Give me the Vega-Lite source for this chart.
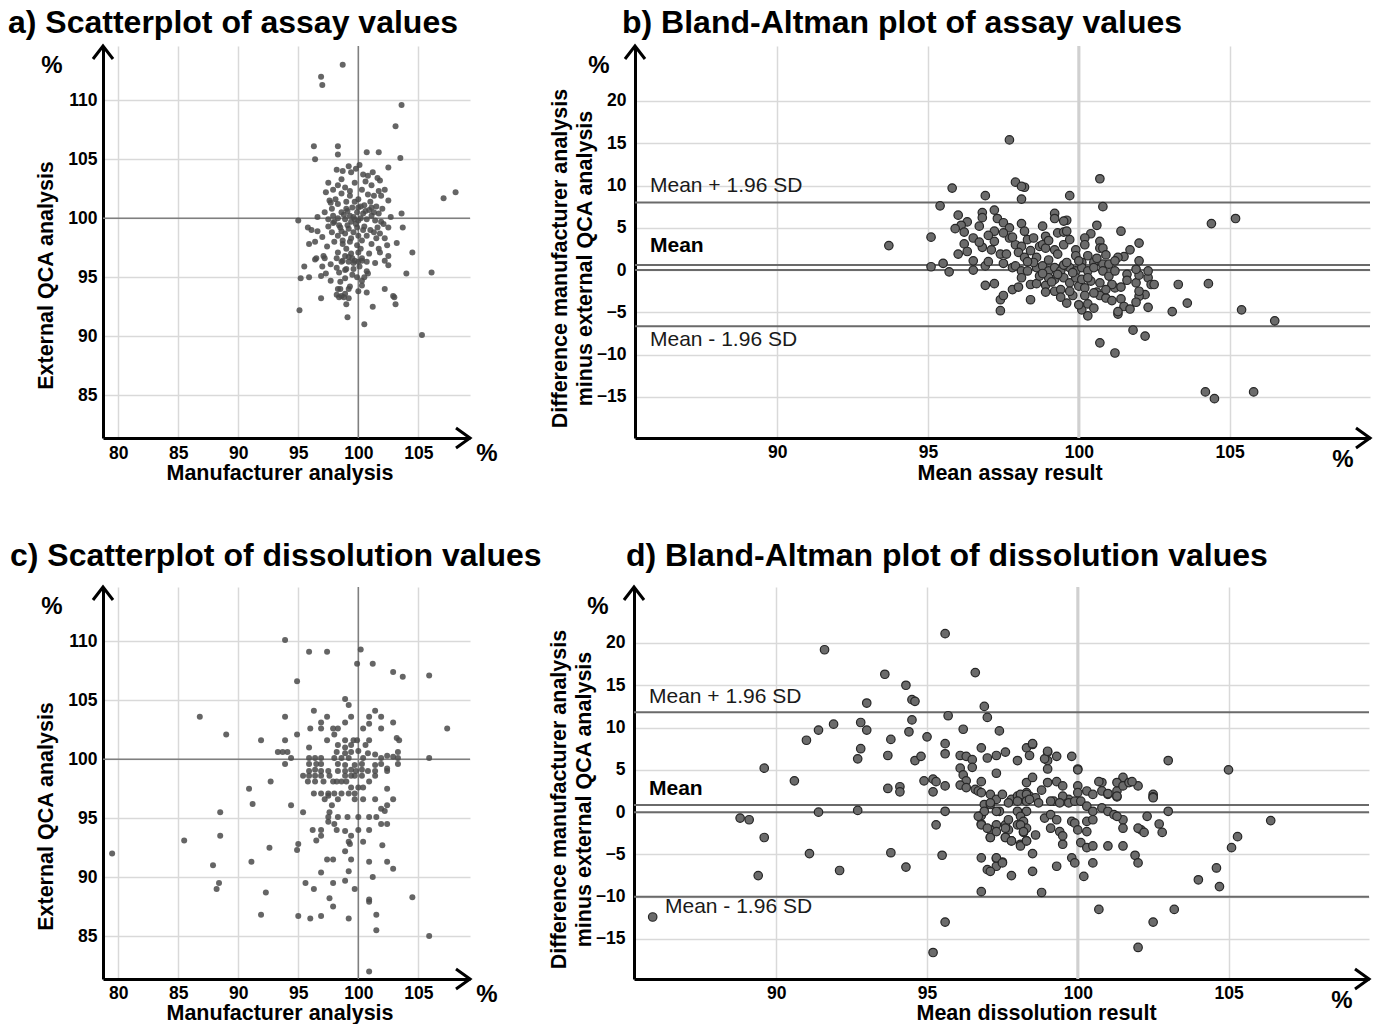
{
  "$schema": "https://vega.github.io/schema/vega-lite/v6.json",
  "padding": {"left": 8, "top": 7, "right": 0, "bottom": 0},
  "config": {
    "view": {"stroke": null},
    "font": "Liberation Sans",
    "axis": {"grid": true, "gridColor": "#d9d9d9", "gridWidth": 1.5, "domainColor": "#000000", "domainWidth": 3, "ticks": false, "tickSize": 0, "labelFont": "Liberation Sans", "labelFontSize": 17.5, "labelFontWeight": "bold", "labelColor": "#000000", "titleFont": "Liberation Sans", "titleFontSize": 21.5, "titleFontWeight": "bold", "titleColor": "#000000"},
    "title": {"font": "Liberation Sans", "fontSize": 32, "fontWeight": "bold", "color": "#000000", "anchor": "start", "frame": "group"}
  },
  "datasets": {
    "a": [
      {"x":98.7,"y":113.0},{"x":96.9,"y":112.0},{"x":97.0,"y":111.3},{"x":103.6,"y":109.6},{"x":103.1,"y":107.8},{"x":96.3,"y":106.1},{"x":98.3,"y":106.1},{"x":96.4,"y":105.0},{"x":98.3,"y":105.4},{"x":100.7,"y":105.6},{"x":101.7,"y":105.6},{"x":103.5,"y":105.1},{"x":102.5,"y":104.3},{"x":107.1,"y":101.7},{"x":108.1,"y":102.2},{"x":95.0,"y":99.8},{"x":103.6,"y":100.4},{"x":103.7,"y":99.2},{"x":103.2,"y":97.9},{"x":104.5,"y":97.1},{"x":104.0,"y":95.3},{"x":106.1,"y":95.4},{"x":95.1,"y":92.2},{"x":105.3,"y":90.1},{"x":100.5,"y":91.0},{"x":99.1,"y":91.6},{"x":101.2,"y":92.5},{"x":103.1,"y":92.7},{"x":103.0,"y":93.3},{"x":102.2,"y":94.0},{"x":96.9,"y":93.2},{"x":99.0,"y":92.7},{"x":98.2,"y":93.5},{"x":98.6,"y":93.4},{"x":98.9,"y":93.6},{"x":100.0,"y":93.8},{"x":100.7,"y":93.7},{"x":95.5,"y":95.9},{"x":95.2,"y":94.9},{"x":95.9,"y":95.0},{"x":96.9,"y":95.1},{"x":96.4,"y":96.5},{"x":97.1,"y":96.8},{"x":97.0,"y":95.9},{"x":97.3,"y":95.3},{"x":97.7,"y":94.7},{"x":98.5,"y":94.6},{"x":98.3,"y":94.0},{"x":99.3,"y":94.2},{"x":99.2,"y":93.2},{"x":100.3,"y":94.3},{"x":100.8,"y":95.3},{"x":100.3,"y":94.7},{"x":99.5,"y":95.2},{"x":98.9,"y":95.6},{"x":98.2,"y":95.8},{"x":98.2,"y":96.6},{"x":98.7,"y":96.4},{"x":99.2,"y":96.3},{"x":99.6,"y":96.2},{"x":100.0,"y":96.3},{"x":100.3,"y":96.4},{"x":101.4,"y":96.2},{"x":101.7,"y":97.4},{"x":102.2,"y":96.4},{"x":102.5,"y":96.0},{"x":102.5,"y":96.8},{"x":95.9,"y":97.8},{"x":96.4,"y":98.0},{"x":95.8,"y":99.2},{"x":96.1,"y":99.0},{"x":96.6,"y":98.9},{"x":96.6,"y":100.1},{"x":97.7,"y":101.3},
      {"x":98.7,"y":104.0},{"x":99.4,"y":103.9},{"x":100.1,"y":104.5},{"x":100.4,"y":103.7},{"x":100.8,"y":103.6},{"x":101.6,"y":103.4},{"x":101.8,"y":103.2},{"x":97.5,"y":103.0},{"x":99.7,"y":103.0},{"x":101.1,"y":102.8},{"x":98.3,"y":102.8},{"x":97.9,"y":102.4},{"x":98.6,"y":102.1},{"x":99.3,"y":102.3},{"x":100.3,"y":102.4},{"x":101.7,"y":102.3},{"x":102.2,"y":102.4},{"x":101.3,"y":101.9},{"x":101.9,"y":101.9},{"x":102.5,"y":101.5},{"x":97.6,"y":101.5},{"x":98.3,"y":101.2},{"x":99.0,"y":101.4},{"x":99.7,"y":101.4},{"x":100.0,"y":101.6},{"x":100.5,"y":101.1},{"x":101.1,"y":100.9},{"x":101.5,"y":101.0},{"x":97.8,"y":100.8},
      {"x":97.2,"y":100.5},{"x":97.5,"y":99.9},{"x":97.9,"y":100.2},{"x":98.0,"y":99.7},{"x":98.6,"y":100.5},{"x":98.9,"y":99.9},{"x":99.3,"y":100.2},{"x":99.4,"y":99.7},{"x":99.9,"y":100.5},{"x":100.0,"y":99.8},{"x":100.4,"y":100.4},{"x":100.7,"y":99.9},{"x":101.1,"y":100.2},{"x":101.4,"y":99.8},{"x":101.7,"y":100.4},{"x":101.9,"y":99.7},{"x":98.3,"y":100.0},{"x":98.8,"y":100.3},{"x":99.1,"y":100.6},{"x":99.6,"y":100.1},{"x":99.8,"y":99.5},{"x":100.2,"y":100.0},{"x":100.6,"y":100.6},{"x":101.3,"y":100.5},{"x":102.1,"y":99.5},{"x":102.5,"y":99.2},
      {"x":97.8,"y":98.8},{"x":98.3,"y":98.5},{"x":98.9,"y":98.7},{"x":99.6,"y":98.8},{"x":100.0,"y":98.5},{"x":100.7,"y":98.5},{"x":101.3,"y":98.8},{"x":101.8,"y":98.7},{"x":102.2,"y":98.3},{"x":98.5,"y":99.2},{"x":99.2,"y":99.1},{"x":99.9,"y":99.2},{"x":100.5,"y":99.3},{"x":101.0,"y":99.0},{"x":97.5,"y":99.3},
      {"x":98.0,"y":98.0},{"x":98.7,"y":97.8},{"x":99.3,"y":98.0},{"x":99.9,"y":97.7},{"x":100.3,"y":98.1},{"x":101.1,"y":97.8},{"x":102.4,"y":97.7},
      {"x":98.3,"y":97.1},{"x":98.9,"y":96.8},{"x":99.4,"y":97.0},{"x":100.0,"y":97.1},{"x":100.3,"y":96.6},{"x":99.7,"y":96.4},{"x":99.2,"y":96.7},{"x":98.6,"y":96.3},{"x":100.7,"y":96.3},{"x":101.8,"y":97.1},{"x":96.5,"y":96.6},{"x":97.2,"y":96.6},
      {"x":99.0,"y":95.7},{"x":99.6,"y":95.7},{"x":100.1,"y":95.9},{"x":100.7,"y":95.5},{"x":98.5,"y":94.0},{"x":98.4,"y":93.3},{"x":98.8,"y":93.3},{"x":99.2,"y":94.0},{"x":102.9,"y":93.4},
      {"x":99.0,"y":100.8},{"x":99.5,"y":100.9},{"x":100.2,"y":101.0},{"x":98.4,"y":99.4},{"x":99.7,"y":99.9},{"x":100.9,"y":100.7},{"x":98.1,"y":101.6},{"x":99.3,"y":101.9},{"x":100.8,"y":102.0},{"x":98.9,"y":102.6},{"x":100.6,"y":103.1},{"x":99.8,"y":104.2},{"x":98.6,"y":103.3},{"x":97.3,"y":102.2},{"x":101.0,"y":101.4},{"x":99.4,"y":98.3},{"x":98.7,"y":98.1},{"x":100.2,"y":97.4},{"x":99.0,"y":97.4},{"x":100.9,"y":97.0},{"x":99.5,"y":96.6},{"x":98.4,"y":95.4},{"x":99.9,"y":95.0},{"x":100.5,"y":95.0},{"x":98.9,"y":94.9},{"x":97.7,"y":96.1},{"x":97.4,"y":97.6},{"x":97.0,"y":98.4},{"x":101.5,"y":98.3},{"x":102.0,"y":100.8},{"x":102.7,"y":100.1},{"x":101.2,"y":103.9},{"x":99.2,"y":104.4},{"x":98.2,"y":104.1},{"x":100.4,"y":99.0},{"x":99.1,"y":99.4},{"x":98.6,"y":98.9},{"x":100.0,"y":100.9},{"x":101.6,"y":99.2},{"x":97.9,"y":99.6}
    ],
    "b": [
      {"x":97.7,"y":15.4},{"x":95.8,"y":9.7},{"x":97.9,"y":10.4},{"x":98.2,"y":9.8},{"x":98.1,"y":9.9},{"x":98.1,"y":8.4},{"x":96.9,"y":8.8},{"x":99.7,"y":8.8},{"x":100.7,"y":10.8},{"x":100.8,"y":7.5},{"x":95.4,"y":7.6},{"x":96.0,"y":6.5},{"x":95.1,"y":3.9},{"x":93.7,"y":2.9},{"x":95.1,"y":0.4},{"x":95.5,"y":0.8},{"x":95.7,"y":-0.2},{"x":104.4,"y":5.5},{"x":105.2,"y":6.1},{"x":103.3,"y":-1.7},{"x":104.3,"y":-1.6},{"x":103.6,"y":-3.9},{"x":103.1,"y":-4.9},{"x":105.4,"y":-4.7},{"x":106.5,"y":-6.0},{"x":101.8,"y":-7.1},{"x":102.2,"y":-7.8},{"x":100.7,"y":-8.6},{"x":101.2,"y":-9.8},{"x":104.2,"y":-14.4},{"x":104.5,"y":-15.2},{"x":105.8,"y":-14.4},{"x":96.9,"y":-1.8},{"x":97.2,"y":-1.6},{"x":97.4,"y":-4.8},{"x":97.4,"y":-3.5},{"x":97.5,"y":-3.0},{"x":97.8,"y":-2.3},{"x":98.4,"y":-3.5},{"x":99.6,"y":-3.9},{"x":99.8,"y":-3.0},{"x":100.1,"y":-4.7},{"x":100.0,"y":-4.1},{"x":100.3,"y":-5.4},{"x":100.3,"y":-4.0},{"x":100.5,"y":-4.5},{"x":100.6,"y":-2.6},{"x":100.7,"y":-3.0},{"x":100.9,"y":-3.3},{"x":101.1,"y":-3.6},{"x":101.2,"y":-2.1},{"x":101.4,"y":-2.0},{"x":101.4,"y":-3.4},{"x":101.5,"y":-4.3},{"x":101.7,"y":-4.6},{"x":101.3,"y":-5.2},{"x":101.3,"y":-4.9},{"x":102.3,"y":-4.4},{"x":102.2,"y":-2.9},{"x":102.0,"y":-3.1},{"x":101.9,"y":-3.8},{"x":102.0,"y":-2.5},{"x":101.9,"y":-1.5},{"x":102.0,"y":-0.6},{"x":101.9,"y":0.1},{"x":102.3,"y":-0.9},{"x":102.4,"y":-1.7},{"x":102.5,"y":-1.7},{"x":102.3,"y":-0.1},{"x":102.0,"y":1.1},{"x":102.0,"y":3.2},{"x":101.4,"y":4.6},{"x":101.5,"y":1.6},{"x":101.3,"y":1.5},{"x":100.6,"y":5.3},{"x":100.4,"y":4.3},{"x":100.2,"y":3.8},{"x":100.2,"y":3.0},{"x":100.7,"y":3.4},{"x":100.7,"y":2.6},{"x":100.8,"y":2.6},{"x":99.6,"y":5.9},{"x":99.5,"y":5.8},{"x":99.2,"y":6.7},{"x":99.2,"y":6.1},{"x":99.3,"y":4.4},{"x":99.5,"y":4.5},{"x":98.8,"y":5.2},{"x":98.1,"y":5.5},
      {"x":97.2,"y":7.1},{"x":97.3,"y":6.1},{"x":96.8,"y":6.8},{"x":96.8,"y":6.2},{"x":96.3,"y":5.7},{"x":96.7,"y":5.2},{"x":96.1,"y":5.3},{"x":95.9,"y":4.9},{"x":96.2,"y":4.5},{"x":96.5,"y":3.8},{"x":96.2,"y":3.1},{"x":96.0,"y":1.9},{"x":96.3,"y":2.2},{"x":96.5,"y":1.1},{"x":96.5,"y":0.0},{"x":96.8,"y":2.7},{"x":96.9,"y":0.5},{"x":97.1,"y":2.4},{"x":97.2,"y":3.4},{"x":97.2,"y":4.6},{"x":97.5,"y":5.6},{"x":97.7,"y":5.0},{"x":97.7,"y":3.8},{"x":97.5,"y":4.4},{"x":97.4,"y":1.9},{"x":97.6,"y":1.9},{"x":97.9,"y":3.0},{"x":97.8,"y":3.9},{"x":98.2,"y":4.6},{"x":98.3,"y":3.6},{"x":98.5,"y":3.8},{"x":98.1,"y":2.8},{"x":98.0,"y":2.1},{"x":98.2,"y":1.5},{"x":98.4,"y":2.3},{"x":98.7,"y":2.8},{"x":98.8,"y":3.0},{"x":98.9,"y":2.6},{"x":98.6,"y":1.5},{"x":99.2,"y":2.4},{"x":99.3,"y":1.9},{"x":99.5,"y":3.0},{"x":99.6,"y":4.6},{"x":99.7,"y":3.6},{"x":99.9,"y":2.4},{"x":99.9,"y":1.7},{"x":100.3,"y":1.7},{"x":100.1,"y":0.9},{"x":100.5,"y":0.9},{"x":100.8,"y":0.7},{"x":101.0,"y":0.7},{"x":101.2,"y":1.1},
      {"x":97.8,"y":0.3},{"x":97.9,"y":0.5},{"x":98.1,"y":-0.1},{"x":98.1,"y":-0.9},{"x":98.3,"y":-0.1},{"x":98.6,"y":0.3},{"x":98.8,"y":0.5},{"x":99.0,"y":-0.1},{"x":99.2,"y":0.3},{"x":99.4,"y":-0.1},{"x":99.7,"y":0.3},{"x":99.9,"y":-0.1},{"x":100.1,"y":0.3},{"x":100.3,"y":-0.1},{"x":100.5,"y":0.3},{"x":100.8,"y":-0.1},{"x":98.4,"y":-1.7},{"x":98.6,"y":-1.6},{"x":98.9,"y":-1.8},{"x":98.9,"y":-2.6},{"x":99.2,"y":-2.5},{"x":99.4,"y":-2.3},{"x":99.2,"y":-1.1},{"x":99.5,"y":-0.9},{"x":99.7,"y":-1.5},{"x":100.0,"y":-1.9},{"x":100.2,"y":-2.1},{"x":100.4,"y":-1.3},{"x":100.5,"y":-2.7},{"x":100.7,"y":-1.5},{"x":101.0,"y":-0.7},{"x":99.0,"y":-0.9},{"x":98.7,"y":-0.7},{"x":99.7,"y":-2.5},{"x":99.9,"y":-0.9},{"x":100.1,"y":-1.1},{"x":100.3,"y":-0.9},{"x":101.2,"y":-0.1},{"x":101.6,"y":-0.5},{"x":101.1,"y":-1.7},
      {"x":98.5,"y":0.9},{"x":99.0,"y":1.2},{"x":99.5,"y":0.6},{"x":100.0,"y":1.1},{"x":98.8,"y":-0.4},{"x":99.3,"y":-0.5},{"x":99.6,"y":0.9},{"x":100.6,"y":1.4},{"x":98.3,"y":1.0},{"x":97.5,"y":0.8},{"x":99.1,"y":-1.4},{"x":99.8,"y":-0.3},{"x":100.9,"y":-2.3},{"x":101.6,"y":-1.2},{"x":98.0,"y":-2.0},{"x":99.4,"y":-3.2},{"x":100.2,"y":-3.0},{"x":97.0,"y":1.0},{"x":96.7,"y":3.3},{"x":97.0,"y":4.1},{"x":98.9,"y":4.0},{"x":99.0,"y":3.5},{"x":100.9,"y":1.8},{"x":101.7,"y":2.4}
    ],
    "c": [
      {"x":93.9,"y":110.1},{"x":95.9,"y":109.1},{"x":97.4,"y":109.1},{"x":100.2,"y":109.3},{"x":99.9,"y":108.1},{"x":101.2,"y":108.1},{"x":102.9,"y":107.4},{"x":103.7,"y":107.0},{"x":105.9,"y":107.1},{"x":94.9,"y":106.6},{"x":98.9,"y":105.1},{"x":99.2,"y":104.6},{"x":96.3,"y":104.1},{"x":97.4,"y":103.6},{"x":99.4,"y":103.6},{"x":101.4,"y":104.1},{"x":101.9,"y":103.6},{"x":100.9,"y":103.6},{"x":98.9,"y":103.1},{"x":96.9,"y":103.1},{"x":96.0,"y":102.6},{"x":96.9,"y":102.6},{"x":97.9,"y":102.6},{"x":98.3,"y":102.6},{"x":100.4,"y":102.6},{"x":100.9,"y":103.0},{"x":101.9,"y":102.6},{"x":102.9,"y":103.1},{"x":86.8,"y":103.6},{"x":89.0,"y":102.1},{"x":93.9,"y":103.6},{"x":94.9,"y":102.1},{"x":91.9,"y":101.6},{"x":93.9,"y":101.6},{"x":95.9,"y":101.0},{"x":97.4,"y":101.6},{"x":98.0,"y":102.1},{"x":98.9,"y":101.6},{"x":99.6,"y":101.6},{"x":99.9,"y":101.6},{"x":100.6,"y":101.2},{"x":100.9,"y":101.6},{"x":98.3,"y":101.2},{"x":98.9,"y":101.0},{"x":99.4,"y":101.2},{"x":103.2,"y":101.8},{"x":103.4,"y":101.6},{"x":93.3,"y":100.6},{"x":93.7,"y":100.6},{"x":94.1,"y":100.6},{"x":94.4,"y":100.1},{"x":93.9,"y":99.6},
      {"x":95.9,"y":100.1},{"x":96.4,"y":100.1},{"x":96.9,"y":100.1},{"x":98.0,"y":100.1},{"x":98.6,"y":100.1},{"x":99.2,"y":100.1},{"x":100.4,"y":100.1},{"x":100.8,"y":100.5},{"x":101.4,"y":100.4},{"x":101.9,"y":100.1},{"x":102.4,"y":100.3},{"x":102.9,"y":100.2},{"x":103.3,"y":100.1},{"x":103.3,"y":100.6},{"x":105.9,"y":100.1},{"x":98.2,"y":100.6},{"x":98.9,"y":100.5},{"x":99.4,"y":100.6},{"x":100.0,"y":100.7},
      {"x":95.9,"y":99.6},{"x":96.5,"y":99.6},{"x":96.9,"y":99.6},{"x":98.3,"y":99.6},{"x":98.9,"y":99.5},{"x":99.7,"y":99.5},{"x":100.3,"y":99.6},{"x":101.4,"y":99.5},{"x":101.9,"y":99.6},{"x":102.4,"y":99.2},{"x":103.3,"y":99.6},
      {"x":95.9,"y":99.0},{"x":96.4,"y":99.1},{"x":96.9,"y":99.0},{"x":97.5,"y":99.0},{"x":98.3,"y":99.0},{"x":98.9,"y":99.0},{"x":99.4,"y":99.1},{"x":99.8,"y":99.0},{"x":100.3,"y":99.1},{"x":100.8,"y":99.0},{"x":101.4,"y":99.0},{"x":102.4,"y":99.0},
      {"x":95.4,"y":98.6},{"x":95.9,"y":98.6},{"x":96.4,"y":98.6},{"x":96.9,"y":98.6},{"x":97.6,"y":98.6},{"x":98.9,"y":98.6},{"x":99.4,"y":98.6},{"x":99.7,"y":98.6},{"x":100.3,"y":98.6},{"x":101.4,"y":98.6},{"x":98.2,"y":98.1},
      {"x":95.8,"y":98.1},{"x":96.4,"y":98.1},{"x":97.1,"y":98.1},{"x":97.9,"y":98.1},{"x":98.6,"y":98.1},{"x":99.0,"y":98.1},{"x":99.4,"y":97.6},{"x":100.0,"y":97.6},{"x":100.4,"y":97.6},{"x":100.9,"y":98.1},
      {"x":96.3,"y":97.1},{"x":96.9,"y":97.1},{"x":97.5,"y":97.1},{"x":98.0,"y":97.1},{"x":98.6,"y":97.1},{"x":99.2,"y":97.1},{"x":99.7,"y":97.1},
      {"x":97.2,"y":96.6},{"x":97.5,"y":96.9},{"x":98.3,"y":96.6},{"x":99.7,"y":96.6},{"x":100.4,"y":96.6},{"x":101.4,"y":96.6},{"x":102.4,"y":97.5},{"x":102.9,"y":96.6},
      {"x":90.9,"y":97.5},{"x":92.7,"y":98.1},{"x":91.2,"y":96.2},{"x":94.4,"y":96.1},{"x":95.4,"y":95.5},{"x":97.8,"y":96.1},{"x":97.6,"y":95.5},{"x":97.5,"y":95.1},{"x":97.5,"y":94.7},
      {"x":98.0,"y":94.5},{"x":98.3,"y":95.1},{"x":99.1,"y":95.1},{"x":100.0,"y":95.1},{"x":100.9,"y":95.1},{"x":101.5,"y":95.1},{"x":101.9,"y":94.5},{"x":102.4,"y":94.5},{"x":101.9,"y":95.8},{"x":102.4,"y":96.1},{"x":102.2,"y":95.6},
      {"x":88.5,"y":95.5},{"x":88.5,"y":93.5},{"x":85.5,"y":93.1},{"x":87.9,"y":91.0},{"x":88.4,"y":89.5},{"x":88.2,"y":89.0},{"x":91.1,"y":91.3},{"x":92.6,"y":92.5},{"x":92.3,"y":88.7},{"x":91.9,"y":86.8},{"x":95.0,"y":92.8},{"x":94.9,"y":92.3},
      {"x":96.2,"y":94.0},{"x":96.9,"y":94.0},{"x":96.9,"y":93.5},{"x":96.5,"y":93.1},
      {"x":98.2,"y":94.0},{"x":98.9,"y":93.9},{"x":99.4,"y":93.5},{"x":99.3,"y":92.8},{"x":99.2,"y":93.0},{"x":98.9,"y":92.2},{"x":100.0,"y":94.0},{"x":100.4,"y":93.0},{"x":100.9,"y":94.0},{"x":102.0,"y":92.7},{"x":102.4,"y":91.3},{"x":102.9,"y":90.7},
      {"x":97.4,"y":91.5},{"x":97.9,"y":91.5},{"x":99.4,"y":91.5},{"x":100.9,"y":91.3},{"x":96.9,"y":90.4},{"x":99.2,"y":90.5},{"x":101.2,"y":90.0},{"x":95.6,"y":89.5},{"x":96.3,"y":89.0},{"x":97.9,"y":89.5},{"x":98.9,"y":89.7},{"x":99.7,"y":89.0},{"x":97.6,"y":88.2},{"x":97.9,"y":87.5},{"x":100.9,"y":87.9},{"x":100.9,"y":88.1},{"x":104.5,"y":88.3},{"x":95.0,"y":86.7},{"x":96.0,"y":86.5},{"x":96.9,"y":86.7},{"x":99.2,"y":86.5},{"x":101.5,"y":86.8},{"x":101.5,"y":85.5},{"x":105.9,"y":85.0},{"x":100.9,"y":82.0},{"x":107.4,"y":102.6},{"x":79.5,"y":92.0}
    ],
    "d": [
      {"x":95.6,"y":21.1},{"x":91.6,"y":19.2},{"x":93.6,"y":16.3},{"x":96.6,"y":16.5},{"x":94.3,"y":15.0},{"x":94.5,"y":13.3},{"x":94.6,"y":13.1},{"x":93.0,"y":12.9},{"x":95.7,"y":11.4},{"x":94.5,"y":10.9},{"x":92.8,"y":10.6},{"x":93.0,"y":9.7},{"x":91.9,"y":10.4},{"x":91.4,"y":9.7},{"x":91.0,"y":8.5},{"x":93.8,"y":8.6},{"x":94.4,"y":9.5},{"x":95.0,"y":8.9},{"x":96.2,"y":9.8},{"x":96.9,"y":12.5},{"x":97.0,"y":11.2},{"x":97.4,"y":9.6},{"x":92.8,"y":7.5},{"x":92.7,"y":6.3},{"x":93.7,"y":6.7},{"x":94.6,"y":6.1},{"x":94.8,"y":6.6},{"x":95.6,"y":8.1},{"x":95.6,"y":6.9},{"x":96.1,"y":6.7},{"x":96.3,"y":6.6},{"x":96.5,"y":6.2},{"x":96.5,"y":5.3},{"x":96.8,"y":7.6},{"x":97.0,"y":6.4},{"x":97.3,"y":6.7},{"x":97.6,"y":7.1},{"x":98.0,"y":6.1},{"x":96.1,"y":5.2},{"x":96.2,"y":4.4},{"x":96.3,"y":3.7},{"x":96.1,"y":3.2},{"x":96.3,"y":2.9},{"x":96.6,"y":2.7},{"x":96.8,"y":3.6},{"x":96.7,"y":2.5},{"x":97.3,"y":4.6},{"x":89.6,"y":5.2},{"x":90.6,"y":3.7},{"x":93.7,"y":2.8},{"x":94.1,"y":3.0},{"x":94.1,"y":2.4},{"x":94.9,"y":3.7},{"x":95.2,"y":3.9},{"x":95.3,"y":3.6},{"x":95.2,"y":2.4},{"x":95.6,"y":3.1},
      {"x":96.8,"y":2.3},{"x":97.1,"y":2.1},{"x":97.3,"y":1.5},{"x":97.5,"y":2.1},{"x":97.8,"y":1.5},{"x":98.0,"y":1.9},{"x":98.3,"y":2.3},{"x":98.2,"y":1.5},{"x":98.4,"y":1.9},{"x":96.9,"y":0.9},{"x":97.1,"y":0.9},{"x":97.4,"y":0.1},{"x":98.0,"y":0.1},{"x":98.3,"y":0.1},
      {"x":96.8,"y":-0.4},{"x":96.9,"y":0.1},{"x":96.8,"y":-1.4},{"x":97.3,"y":-1.5},{"x":97.1,"y":-2.1},{"x":97.6,"y":-1.5},{"x":97.7,"y":-2.1},{"x":98.0,"y":-1.5},{"x":98.1,"y":-0.5},{"x":98.2,"y":-1.1},{"x":98.3,"y":-1.9},{"x":98.2,"y":-2.4},{"x":97.8,"y":-3.4},{"x":98.1,"y":-3.8},{"x":98.3,"y":-3.4},{"x":97.6,"y":-3.0},{"x":97.1,"y":-3.0},
      {"x":91.4,"y":0.0},{"x":92.7,"y":0.2},{"x":95.6,"y":0.1},{"x":95.3,"y":-1.5},{"x":88.8,"y":-0.7},{"x":89.1,"y":-0.9},{"x":89.6,"y":-3.0},{"x":91.1,"y":-4.9},{"x":93.8,"y":-4.8},{"x":95.5,"y":-5.1},{"x":92.1,"y":-6.9},{"x":94.3,"y":-6.5},{"x":89.4,"y":-7.5},
      {"x":96.8,"y":-5.4},{"x":97.0,"y":-6.8},{"x":97.3,"y":-5.5},{"x":97.3,"y":-6.4},{"x":97.5,"y":-5.9},{"x":97.8,"y":-7.5},{"x":96.8,"y":-9.4},{"x":85.9,"y":-12.4},{"x":95.6,"y":-13.0},{"x":95.2,"y":-16.6},
      {"x":98.3,"y":7.6},{"x":98.5,"y":8.0},{"x":98.4,"y":6.7},{"x":99.0,"y":7.1},{"x":99.3,"y":6.6},{"x":99.0,"y":6.1},{"x":98.9,"y":6.3},{"x":99.0,"y":5.1},{"x":99.8,"y":6.6},{"x":100.0,"y":5.1},{"x":103.0,"y":6.1},
      {"x":98.1,"y":2.1},{"x":98.3,"y":2.1},{"x":98.6,"y":1.7},{"x":98.3,"y":3.5},{"x":98.5,"y":4.1},{"x":98.8,"y":2.6},{"x":99.0,"y":3.5},{"x":99.3,"y":3.6},{"x":99.5,"y":3.1},{"x":100.0,"y":3.1},{"x":100.3,"y":2.5},{"x":100.5,"y":2.1},{"x":100.8,"y":3.5},{"x":100.8,"y":2.5},{"x":101.0,"y":2.1},{"x":101.3,"y":2.5},{"x":101.3,"y":1.8},{"x":101.5,"y":4.1},{"x":101.3,"y":3.5},{"x":101.5,"y":3.1},{"x":101.7,"y":3.5},{"x":102.0,"y":3.1},{"x":102.5,"y":2.1},{"x":102.5,"y":1.8},{"x":100.0,"y":2.3},{"x":99.7,"y":1.5},{"x":99.5,"y":1.9},{"x":99.2,"y":1.3},
      {"x":97.1,"y":1.1},{"x":97.3,"y":0.1},{"x":97.7,"y":1.1},{"x":98.0,"y":1.3},{"x":98.3,"y":1.3},{"x":98.4,"y":1.5},{"x":98.7,"y":1.1},{"x":99.1,"y":1.3},{"x":99.4,"y":1.1},{"x":99.7,"y":1.1},{"x":99.9,"y":1.3},{"x":100.1,"y":1.3},{"x":100.3,"y":0.7},{"x":100.5,"y":0.1},{"x":100.8,"y":0.5},{"x":101.0,"y":0.1},{"x":101.2,"y":-0.3},{"x":101.5,"y":-0.9},{"x":102.3,"y":-0.5},{"x":103.0,"y":0.1},{"x":102.7,"y":-1.4},{"x":102.8,"y":-2.4},{"x":102.1,"y":-2.1},{"x":102.0,"y":-1.9},{"x":101.5,"y":-1.9},
      {"x":96.7,"y":-0.5},{"x":96.8,"y":-1.5},{"x":97.0,"y":-1.9},{"x":97.1,"y":-3.0},{"x":97.3,"y":-2.3},{"x":97.6,"y":-1.9},{"x":97.6,"y":-3.0},{"x":97.7,"y":-0.9},{"x":97.8,"y":-3.4},{"x":98.1,"y":-4.0},{"x":98.1,"y":-1.5},{"x":98.2,"y":-2.3},{"x":98.3,"y":-3.4},{"x":98.6,"y":-2.7},{"x":98.9,"y":-0.7},{"x":99.1,"y":-0.3},{"x":99.1,"y":-1.9},{"x":99.3,"y":-0.9},{"x":99.4,"y":-2.3},{"x":99.5,"y":-3.8},{"x":99.8,"y":-1.1},{"x":99.9,"y":-1.3},{"x":100.0,"y":-2.1},{"x":100.3,"y":-2.3},{"x":100.3,"y":-1.1},{"x":100.5,"y":-0.9},{"x":100.1,"y":-3.6},{"x":100.3,"y":-4.2},{"x":100.5,"y":-4.0},{"x":101.0,"y":-4.0},{"x":101.5,"y":-4.0},{"x":99.5,"y":-2.8},{"x":99.8,"y":-5.4},{"x":99.9,"y":-6.0},{"x":100.5,"y":-6.0},{"x":98.5,"y":-4.9},{"x":98.5,"y":-7.0},{"x":99.3,"y":-6.4},{"x":100.2,"y":-7.6},{"x":97.3,"y":-5.4},{"x":97.5,"y":-6.0},{"x":97.1,"y":-7.0},{"x":101.9,"y":-5.1},{"x":102.0,"y":-6.0},
      {"x":105.0,"y":5.0},{"x":102.5,"y":1.7},{"x":102.2,"y":-2.4},{"x":100.7,"y":-11.5},{"x":102.5,"y":-13.0},{"x":103.2,"y":-11.5},{"x":102.0,"y":-16.0},{"x":104.0,"y":-8.0},{"x":104.6,"y":-6.6},{"x":104.7,"y":-8.8},{"x":105.1,"y":-4.2},{"x":105.3,"y":-2.9},{"x":106.4,"y":-1.0},{"x":98.8,"y":-9.5},{"x":101.3,"y":-0.5},{"x":100.7,"y":3.6},{"x":101.3,"y":1.9},{"x":101.8,"y":3.6},{"x":101.0,"y":2.2},{"x":100.0,"y":5.0},{"x":99.0,"y":7.2},{"x":98.5,"y":8.1}
    ],
    "refb": [{"v":8.0},{"v":0.6},{"v":-6.65},{"v":0}],
    "refd": [{"v":11.8},{"v":0.85},{"v":-10.0},{"v":0}]
  },
  "spacing": 56,
  "vconcat": [
    {
      "spacing": 50,
      "hconcat": [
        {
          "width": 367, "height": 392,
          "title": {"text": "a) Scatterplot of assay values", "dx": -95, "offset": 0},
          "layer": [
            {"data": {"values": [{}]}, "mark": {"type": "rule", "color": "#7f7f7f", "strokeWidth": 1.5}, "encoding": {"y": {"datum": 100, "scale": {"domain": [81.36, 114.6], "nice": false, "zero": false}}}},
            {"data": {"values": [{}]}, "mark": {"type": "rule", "color": "#7f7f7f", "strokeWidth": 1.5}, "encoding": {"x": {"datum": 100, "scale": {"domain": [78.74, 109.3], "nice": false, "zero": false}}}},
            {"data": {"name": "a"}, "mark": {"type": "circle", "size": 36, "color": "#4a4a4a", "opacity": 0.85},
             "encoding": {
               "x": {"field": "x", "type": "quantitative", "scale": {"domain": [78.74, 109.3], "nice": false, "zero": false}, "axis": {"values": [80, 85, 90, 95, 100, 105], "title": "Manufacturer analysis", "titleAlign": "left", "titleX": 63, "titleY": 35, "titleBaseline": "middle", "labelPadding": 6}},
               "y": {"field": "y", "type": "quantitative", "scale": {"domain": [81.36, 114.6], "nice": false, "zero": false}, "axis": {"values": [85, 90, 95, 100, 105, 110], "title": "External QCA analysis", "titleAlign": "center", "titleAngle": 270, "titleX": -57, "titleY": 229, "titleBaseline": "middle", "labelPadding": 6}}
             }},
            {"data": {"values": [{}]}, "mark": {"type": "point", "shape": "M-1,1.3L0,0L1,1.3", "size": 400, "filled": false, "color": "#000000", "strokeWidth": 3, "opacity": 1}, "encoding": {"x": {"datum": 78.74}, "y": {"datum": 114.6}}},
            {"data": {"values": [{}]}, "mark": {"type": "point", "shape": "M-1.4,-1L0,0L-1.4,1", "size": 400, "filled": false, "color": "#000000", "strokeWidth": 3, "opacity": 1}, "encoding": {"x": {"datum": 109.3}, "y": {"datum": 81.36}}},
            {"data": {"values": [{}]}, "mark": {"type": "text", "text": "%", "fontSize": 24, "fontWeight": "bold", "color": "#000000", "align": "center", "baseline": "middle", "dx": -51, "dy": 20}, "encoding": {"x": {"datum": 78.74}, "y": {"datum": 114.6}}},
            {"data": {"values": [{}]}, "mark": {"type": "text", "text": "%", "fontSize": 24, "fontWeight": "bold", "color": "#000000", "align": "center", "baseline": "middle", "dx": 17, "dy": 16}, "encoding": {"x": {"datum": 109.3}, "y": {"datum": 81.36}}}
          ]
        },
        {
          "width": 735, "height": 392,
          "title": {"text": "b) Bland-Altman plot of assay values", "dx": -13, "offset": 0},
          "layer": [
            {"data": {"values": [{}]}, "mark": {"type": "rule", "color": "#d0d0d0", "strokeWidth": 3}, "encoding": {"x": {"datum": 100, "scale": {"domain": [85.28, 109.66], "nice": false, "zero": false}}}},
            {"data": {"name": "refb"}, "mark": {"type": "rule", "color": "#6a6a6a", "strokeWidth": 2}, "encoding": {"y": {"field": "v", "type": "quantitative", "scale": {"domain": [-19.85, 26.5], "nice": false, "zero": false}}}},
            {"data": {"name": "b"}, "mark": {"type": "circle", "size": 72, "color": "#6b6b6b", "stroke": "#262626", "strokeWidth": 1.2, "opacity": 1},
             "encoding": {
               "x": {"field": "x", "type": "quantitative", "scale": {"domain": [85.28, 109.66], "nice": false, "zero": false}, "axis": {"values": [90, 95, 100, 105], "title": "Mean assay result", "titleAlign": "left", "titleX": 282, "titleY": 35, "titleBaseline": "middle", "labelPadding": 5}},
               "y": {"field": "y", "type": "quantitative", "scale": {"domain": [-19.85, 26.5], "nice": false, "zero": false}, "axis": {"values": [-15, -10, -5, 0, 5, 10, 15, 20], "title": ["Difference manufacturer analysis", "minus external QCA analysis"], "titleAlign": "center", "titleAngle": 270, "titleX": -75, "titleY": 212, "titleBaseline": "middle", "titleLineHeight": 25, "labelPadding": 9}}
             }},
            {"data": {"values": [{}]}, "mark": {"type": "text", "text": "Mean + 1.96 SD", "fontSize": 21, "color": "#1a1a1a", "align": "left", "baseline": "middle", "dx": 15}, "encoding": {"x": {"datum": 85.28}, "y": {"datum": 9.93}}},
            {"data": {"values": [{}]}, "mark": {"type": "text", "text": "Mean", "fontSize": 21, "fontWeight": "bold", "color": "#000000", "align": "left", "baseline": "middle", "dx": 15}, "encoding": {"x": {"datum": 85.28}, "y": {"datum": 2.84}}},
            {"data": {"values": [{}]}, "mark": {"type": "text", "text": "Mean - 1.96 SD", "fontSize": 21, "color": "#1a1a1a", "align": "left", "baseline": "middle", "dx": 15}, "encoding": {"x": {"datum": 85.28}, "y": {"datum": -8.27}}},
            {"data": {"values": [{}]}, "mark": {"type": "point", "shape": "M-1,1.3L0,0L1,1.3", "size": 400, "filled": false, "color": "#000000", "strokeWidth": 3, "opacity": 1}, "encoding": {"x": {"datum": 85.28}, "y": {"datum": 26.5}}},
            {"data": {"values": [{}]}, "mark": {"type": "point", "shape": "M-1.4,-1L0,0L-1.4,1", "size": 400, "filled": false, "color": "#000000", "strokeWidth": 3, "opacity": 1}, "encoding": {"x": {"datum": 109.66}, "y": {"datum": -19.85}}},
            {"data": {"values": [{}]}, "mark": {"type": "text", "text": "%", "fontSize": 24, "fontWeight": "bold", "color": "#000000", "align": "center", "baseline": "middle", "dx": -36, "dy": 20}, "encoding": {"x": {"datum": 85.28}, "y": {"datum": 26.5}}},
            {"data": {"values": [{}]}, "mark": {"type": "text", "text": "%", "fontSize": 24, "fontWeight": "bold", "color": "#000000", "align": "center", "baseline": "middle", "dx": -27, "dy": 22}, "encoding": {"x": {"datum": 109.66}, "y": {"datum": -19.85}}}
          ]
        }
      ]
    },
    {
      "spacing": 5,
      "hconcat": [
        {
          "width": 367, "height": 392,
          "title": {"text": "c) Scatterplot of dissolution values", "dx": -93, "offset": 8},
          "layer": [
            {"data": {"values": [{}]}, "mark": {"type": "rule", "color": "#7f7f7f", "strokeWidth": 1.5}, "encoding": {"y": {"datum": 100, "scale": {"domain": [81.36, 114.6], "nice": false, "zero": false}}}},
            {"data": {"values": [{}]}, "mark": {"type": "rule", "color": "#7f7f7f", "strokeWidth": 1.5}, "encoding": {"x": {"datum": 100, "scale": {"domain": [78.74, 109.3], "nice": false, "zero": false}}}},
            {"data": {"name": "c"}, "mark": {"type": "circle", "size": 36, "color": "#4a4a4a", "opacity": 0.85},
             "encoding": {
               "x": {"field": "x", "type": "quantitative", "scale": {"domain": [78.74, 109.3], "nice": false, "zero": false}, "axis": {"values": [80, 85, 90, 95, 100, 105], "title": "Manufacturer analysis", "titleAlign": "left", "titleX": 63, "titleY": 34, "titleBaseline": "middle", "labelPadding": 5}},
               "y": {"field": "y", "type": "quantitative", "scale": {"domain": [81.36, 114.6], "nice": false, "zero": false}, "axis": {"values": [85, 90, 95, 100, 105, 110], "title": "External QCA analysis", "titleAlign": "center", "titleAngle": 270, "titleX": -57, "titleY": 229, "titleBaseline": "middle", "labelPadding": 6}}
             }},
            {"data": {"values": [{}]}, "mark": {"type": "point", "shape": "M-1,1.3L0,0L1,1.3", "size": 400, "filled": false, "color": "#000000", "strokeWidth": 3, "opacity": 1}, "encoding": {"x": {"datum": 78.74}, "y": {"datum": 114.6}}},
            {"data": {"values": [{}]}, "mark": {"type": "point", "shape": "M-1.4,-1L0,0L-1.4,1", "size": 400, "filled": false, "color": "#000000", "strokeWidth": 3, "opacity": 1}, "encoding": {"x": {"datum": 109.3}, "y": {"datum": 81.36}}},
            {"data": {"values": [{}]}, "mark": {"type": "text", "text": "%", "fontSize": 24, "fontWeight": "bold", "color": "#000000", "align": "center", "baseline": "middle", "dx": -51, "dy": 20}, "encoding": {"x": {"datum": 78.74}, "y": {"datum": 114.6}}},
            {"data": {"values": [{}]}, "mark": {"type": "text", "text": "%", "fontSize": 24, "fontWeight": "bold", "color": "#000000", "align": "center", "baseline": "middle", "dx": 17, "dy": 16}, "encoding": {"x": {"datum": 109.3}, "y": {"datum": 81.36}}}
          ]
        },
        {
          "width": 735, "height": 392,
          "title": {"text": "d) Bland-Altman plot of dissolution values", "dx": -8, "offset": 8},
          "layer": [
            {"data": {"values": [{}]}, "mark": {"type": "rule", "color": "#d0d0d0", "strokeWidth": 3}, "encoding": {"x": {"datum": 100, "scale": {"domain": [85.28, 109.66], "nice": false, "zero": false}}}},
            {"data": {"name": "refd"}, "mark": {"type": "rule", "color": "#6a6a6a", "strokeWidth": 2}, "encoding": {"y": {"field": "v", "type": "quantitative", "scale": {"domain": [-19.73, 26.62], "nice": false, "zero": false}}}},
            {"data": {"name": "d"}, "mark": {"type": "circle", "size": 72, "color": "#6b6b6b", "stroke": "#262626", "strokeWidth": 1.2, "opacity": 1},
             "encoding": {
               "x": {"field": "x", "type": "quantitative", "scale": {"domain": [85.28, 109.66], "nice": false, "zero": false}, "axis": {"values": [90, 95, 100, 105], "title": "Mean dissolution result", "titleAlign": "left", "titleX": 282, "titleY": 34, "titleBaseline": "middle", "labelPadding": 5}},
               "y": {"field": "y", "type": "quantitative", "scale": {"domain": [-19.73, 26.62], "nice": false, "zero": false}, "axis": {"values": [-15, -10, -5, 0, 5, 10, 15, 20], "title": ["Difference manufacturer analysis", "minus external QCA analysis"], "titleAlign": "center", "titleAngle": 270, "titleX": -75, "titleY": 212, "titleBaseline": "middle", "titleLineHeight": 25, "labelPadding": 9}}
             }},
            {"data": {"values": [{}]}, "mark": {"type": "text", "text": "Mean + 1.96 SD", "fontSize": 21, "color": "#1a1a1a", "align": "left", "baseline": "middle", "dx": 15}, "encoding": {"x": {"datum": 85.28}, "y": {"datum": 13.6}}},
            {"data": {"values": [{}]}, "mark": {"type": "text", "text": "Mean", "fontSize": 21, "fontWeight": "bold", "color": "#000000", "align": "left", "baseline": "middle", "dx": 15}, "encoding": {"x": {"datum": 85.28}, "y": {"datum": 2.72}}},
            {"data": {"values": [{}]}, "mark": {"type": "text", "text": "Mean - 1.96 SD", "fontSize": 21, "color": "#1a1a1a", "align": "left", "baseline": "middle", "dx": 31}, "encoding": {"x": {"datum": 85.28}, "y": {"datum": -11.23}}},
            {"data": {"values": [{}]}, "mark": {"type": "point", "shape": "M-1,1.3L0,0L1,1.3", "size": 400, "filled": false, "color": "#000000", "strokeWidth": 3, "opacity": 1}, "encoding": {"x": {"datum": 85.28}, "y": {"datum": 26.62}}},
            {"data": {"values": [{}]}, "mark": {"type": "point", "shape": "M-1.4,-1L0,0L-1.4,1", "size": 400, "filled": false, "color": "#000000", "strokeWidth": 3, "opacity": 1}, "encoding": {"x": {"datum": 109.66}, "y": {"datum": -19.73}}},
            {"data": {"values": [{}]}, "mark": {"type": "text", "text": "%", "fontSize": 24, "fontWeight": "bold", "color": "#000000", "align": "center", "baseline": "middle", "dx": -36, "dy": 20}, "encoding": {"x": {"datum": 85.28}, "y": {"datum": 26.62}}},
            {"data": {"values": [{}]}, "mark": {"type": "text", "text": "%", "fontSize": 24, "fontWeight": "bold", "color": "#000000", "align": "center", "baseline": "middle", "dx": -27, "dy": 22}, "encoding": {"x": {"datum": 109.66}, "y": {"datum": -19.73}}}
          ]
        }
      ]
    }
  ]
}
